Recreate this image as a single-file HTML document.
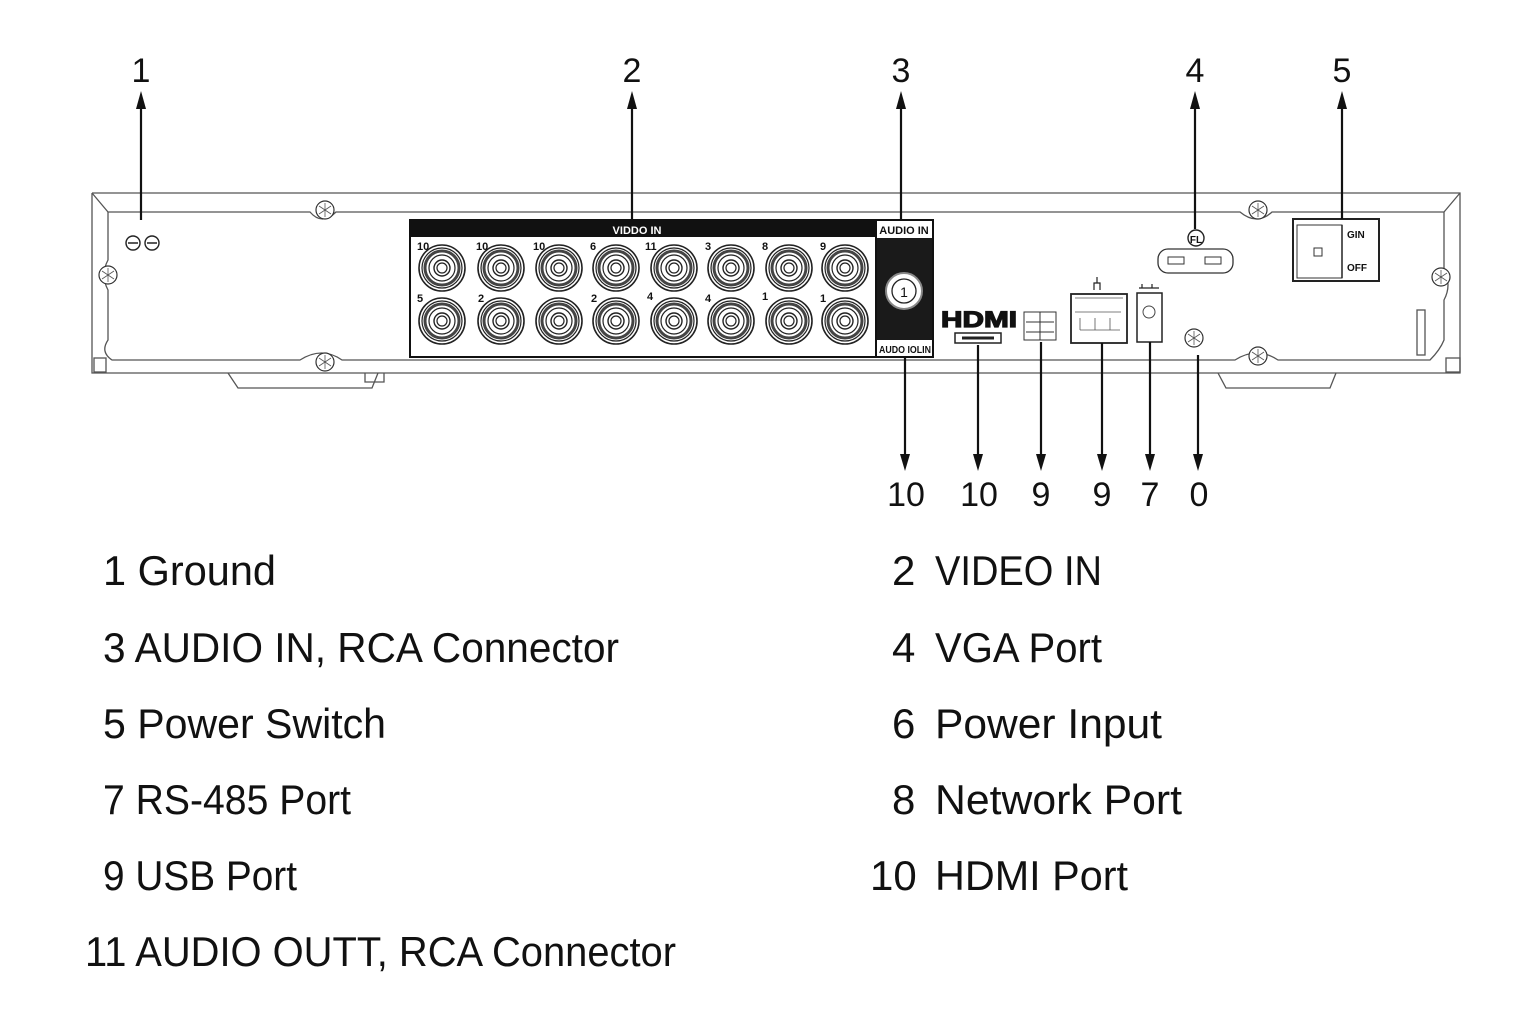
<!DOCTYPE html>
<html><head><meta charset="utf-8"><style>
html,body{margin:0;padding:0;background:#fff;}
svg{display:block;}
text{font-family:"Liberation Sans",sans-serif;fill:#111;}
</style></head><body>
<svg width="1536" height="1024" viewBox="0 0 1536 1024" xmlns="http://www.w3.org/2000/svg">
<defs>
<g id="rca">
<circle r="23" fill="#fff" stroke="#222" stroke-width="1.6"/>
<circle r="20" fill="none" stroke="#222" stroke-width="1.2"/>
<circle r="17" fill="none" stroke="#444" stroke-width="3"/>
<circle r="13" fill="none" stroke="#222" stroke-width="1.2"/>
<circle r="8" fill="none" stroke="#222" stroke-width="1.4"/>
<circle r="5" fill="none" stroke="#222" stroke-width="1.2"/>
</g>
<g id="scr">
<circle r="9" fill="#fff" stroke="#333" stroke-width="1.2"/>
<path d="M-6,-4 L6,4 M-6,4 L6,-4 M0,-7 L0,7" stroke="#555" stroke-width="0.8"/>
</g>
</defs>

<g fill="none" stroke="#555" stroke-width="1.3">
<path d="M92,193 L1460,193 L1460,373 L1442,373"/>
<path d="M92,193 L92,373 L110,373"/>
<path d="M92,193 L108,212 L310,212 Q322,226 336,212 L1240,212 Q1257,226 1272,212 L1444,212 L1460,193"/>
<path d="M108,212 L108,260 Q100,275 108,290 L108,340 Q100,352 112,360 L300,360 Q322,346 342,360 L1235,360 Q1257,346 1278,360 L1430,360 Q1440,350 1444,340 L1444,300 Q1452,285 1444,270 L1444,212"/>
<path d="M110,373 L1442,373"/>
<path d="M228,373 L238,388 L372,388 L378,373"/>
<path d="M1218,373 L1226,388 L1330,388 L1336,373"/>
<path d="M365,373 L365,382 L384,382 L384,373"/>
<rect x="94" y="358" width="12" height="14"/>
<rect x="1446" y="358" width="14" height="14"/>
<rect x="1417" y="310" width="8" height="45"/>
</g>
<use href="#scr" x="325" y="210"/>
<use href="#scr" x="108" y="275"/>
<use href="#scr" x="325" y="362"/>
<use href="#scr" x="1258" y="210"/>
<use href="#scr" x="1441" y="277"/>
<use href="#scr" x="1258" y="356"/>
<use href="#scr" x="1194" y="338"/>
<use href="#scr" x="533" y="297"/>
<circle cx="133" cy="243" r="7" fill="none" stroke="#222" stroke-width="1.4"/>
<circle cx="152" cy="243" r="7" fill="none" stroke="#222" stroke-width="1.4"/>
<path d="M128,243h10M147,243h10" stroke="#222" stroke-width="1.4"/>

<rect x="410" y="220" width="466" height="137" fill="#fff" stroke="#111" stroke-width="2"/>
<rect x="410" y="220" width="466" height="17" fill="#111"/>
<text x="637" y="234" font-size="11" text-anchor="middle" style="fill:#fff;font-weight:bold">VIDDO IN</text>
<g font-size="11" font-weight="bold">
<text x="417" y="250">10</text><text x="476" y="250">10</text><text x="533" y="250">10</text><text x="590" y="250">6</text><text x="645" y="250">11</text><text x="705" y="250">3</text><text x="762" y="250">8</text><text x="820" y="250">9</text>
<text x="417" y="302">5</text><text x="478" y="302">2</text><text x="591" y="302">2</text><text x="647" y="300">4</text><text x="705" y="302">4</text><text x="762" y="300">1</text><text x="820" y="302">1</text>
</g>
<use href="#rca" x="442" y="268"/><use href="#rca" x="501" y="268"/><use href="#rca" x="559" y="268"/><use href="#rca" x="616" y="268"/><use href="#rca" x="674" y="268"/><use href="#rca" x="731" y="268"/><use href="#rca" x="789" y="268"/><use href="#rca" x="845" y="268"/>
<use href="#rca" x="442" y="321"/><use href="#rca" x="501" y="321"/><use href="#rca" x="559" y="321"/><use href="#rca" x="616" y="321"/><use href="#rca" x="674" y="321"/><use href="#rca" x="731" y="321"/><use href="#rca" x="789" y="321"/><use href="#rca" x="845" y="321"/>
<rect x="876" y="220" width="57" height="137" fill="#fff" stroke="#111" stroke-width="2"/>
<rect x="877" y="238" width="55" height="102" fill="#1a1a1a"/>
<text x="904" y="234" font-size="11" font-weight="bold" text-anchor="middle">AUDIO IN</text>
<text x="879" y="353" font-size="10.5" font-weight="bold" textLength="52" lengthAdjust="spacingAndGlyphs">AUDO IOLIN</text>
<circle cx="904" cy="291" r="18" fill="#fff" stroke="#888" stroke-width="2"/>
<circle cx="904" cy="291" r="12" fill="none" stroke="#222" stroke-width="1.3"/>
<text x="904" y="297" font-size="14" text-anchor="middle">1</text>

<text x="941" y="327" font-size="22" font-weight="bold" textLength="76" lengthAdjust="spacingAndGlyphs" style="stroke:#111;stroke-width:1.2">HDMI</text>
<rect x="955" y="333" width="46" height="10" fill="#fff" stroke="#222" stroke-width="1.5"/>
<path d="M962,338 L994,338" stroke="#222" stroke-width="3"/>
<rect x="1024" y="312" width="32" height="28" fill="#fff" stroke="#333" stroke-width="1"/>
<path d="M1026,322h28M1026,332h28M1040,312v28" stroke="#333" stroke-width="1"/>
<rect x="1071" y="294" width="56" height="49" fill="#fff" stroke="#222" stroke-width="1.8"/>
<path d="M1075,298h48M1075,312h46M1080,330h40M1080,318v12M1095,318v12M1110,318v12" stroke="#555" stroke-width="0.8" fill="none"/>
<path d="M1094,290v-7h6v7 M1097,283v-6" stroke="#222" stroke-width="1.2" fill="none"/>
<rect x="1137" y="293" width="25" height="49" fill="#fff" stroke="#222" stroke-width="1.5"/>
<circle cx="1149" cy="312" r="6" fill="none" stroke="#444" stroke-width="1"/>
<path d="M1139,288h20M1142,284v4M1152,284v4" stroke="#222" stroke-width="1.2"/>
<circle cx="1196" cy="238" r="8" fill="#fff" stroke="#222" stroke-width="1.4"/>
<text x="1196" y="243" font-size="10" font-weight="bold" text-anchor="middle">FL</text>
<rect x="1158" y="249" width="75" height="24" rx="10" fill="#fff" stroke="#333" stroke-width="1.3"/>
<rect x="1168" y="257" width="16" height="7" fill="#fff" stroke="#333" stroke-width="1"/>
<rect x="1205" y="257" width="16" height="7" fill="#fff" stroke="#333" stroke-width="1"/>
<rect x="1293" y="219" width="86" height="62" fill="#fff" stroke="#222" stroke-width="2"/>
<rect x="1297" y="225" width="45" height="53" fill="#fff" stroke="#333" stroke-width="1"/>
<line x1="1342" y1="225" x2="1342" y2="278" stroke="#222" stroke-width="1.5"/>
<rect x="1314" y="248" width="8" height="8" fill="none" stroke="#333" stroke-width="1"/>
<text x="1347" y="238" font-size="10" font-weight="bold">GIN</text>
<text x="1347" y="271" font-size="10" font-weight="bold">OFF</text>

<g stroke="#111" stroke-width="2.2">
<line x1="141" y1="104" x2="141" y2="220"/>
<line x1="632" y1="104" x2="632" y2="220"/>
<line x1="901" y1="104" x2="901" y2="220"/>
<line x1="1195" y1="104" x2="1195" y2="229"/>
<line x1="1342" y1="104" x2="1342" y2="219"/>
</g>
<g fill="#111">
<path d="M141,91 l-5,18 h10z"/><path d="M632,91 l-5,18 h10z"/><path d="M901,91 l-5,18 h10z"/><path d="M1195,91 l-5,18 h10z"/><path d="M1342,91 l-5,18 h10z"/>
</g>
<g font-size="34" text-anchor="middle">
<text x="141" y="82">1</text><text x="632" y="82">2</text><text x="901" y="82">3</text><text x="1195" y="82">4</text><text x="1342" y="82">5</text>
</g>

<g stroke="#111" stroke-width="2.2">
<line x1="905" y1="357" x2="905" y2="458"/>
<line x1="978" y1="345" x2="978" y2="458"/>
<line x1="1041" y1="342" x2="1041" y2="458"/>
<line x1="1102" y1="343" x2="1102" y2="458"/>
<line x1="1150" y1="342" x2="1150" y2="458"/>
<line x1="1198" y1="355" x2="1198" y2="458"/>
</g>
<g fill="#111">
<path d="M905,471 l-5,-17 h10z"/><path d="M978,471 l-5,-17 h10z"/><path d="M1041,471 l-5,-17 h10z"/><path d="M1102,471 l-5,-17 h10z"/><path d="M1150,471 l-5,-17 h10z"/><path d="M1198,471 l-5,-17 h10z"/>
</g>
<g font-size="34" text-anchor="middle">
<text x="906" y="506">10</text><text x="979" y="506">10</text><text x="1041" y="506">9</text><text x="1102" y="506">9</text><text x="1150" y="506">7</text><text x="1199" y="506">0</text>
</g>

<g font-size="42">
<text x="103" y="585" textLength="173" lengthAdjust="spacingAndGlyphs">1 Ground</text>
<text x="103" y="662" textLength="516" lengthAdjust="spacingAndGlyphs">3 AUDIO IN, RCA Connector</text>
<text x="103" y="738" textLength="283" lengthAdjust="spacingAndGlyphs">5 Power Switch</text>
<text x="103" y="814" textLength="248" lengthAdjust="spacingAndGlyphs">7 RS-485 Port</text>
<text x="103" y="890" textLength="194" lengthAdjust="spacingAndGlyphs">9 USB Port</text>
<text x="85" y="966" textLength="591" lengthAdjust="spacingAndGlyphs">11 AUDIO OUTT, RCA Connector</text>
<text x="892" y="585">2</text><text x="935" y="585" textLength="167" lengthAdjust="spacingAndGlyphs">VIDEO IN</text>
<text x="892" y="662">4</text><text x="935" y="662" textLength="167" lengthAdjust="spacingAndGlyphs">VGA Port</text>
<text x="892" y="738">6</text><text x="935" y="738" textLength="227" lengthAdjust="spacingAndGlyphs">Power Input</text>
<text x="892" y="814">8</text><text x="935" y="814" textLength="247" lengthAdjust="spacingAndGlyphs">Network Port</text>
<text x="870" y="890">10</text><text x="935" y="890" textLength="193" lengthAdjust="spacingAndGlyphs">HDMI Port</text>
</g>
</svg>
</body></html>
